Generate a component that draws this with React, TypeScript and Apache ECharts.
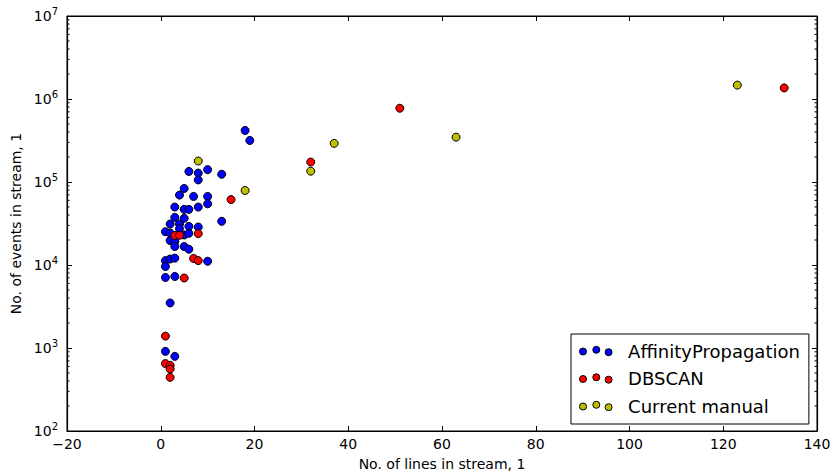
import React, { useEffect, useRef } from "react";
import * as echarts from "echarts";

// Data: [No. of lines in stream, No. of events in stream]
const affinityPropagation: [number, number][] = [
  [18, 418000], [19, 317000], [6, 134000], [8, 128000], [10, 141000], [8, 106000],
  [13, 124000], [5, 83600], [4, 69500], [7, 67000], [10, 67000], [10, 54600],
  [3, 49900], [5, 46800], [6, 46800], [8, 49900], [3, 37500], [5, 36500],
  [13, 33600], [2, 31200], [4, 31200], [6, 29200], [8, 28700], [4, 27400],
  [1, 25200], [2, 24300], [5, 23000], [6, 24100], [2, 19700], [3, 19200],
  [3, 16700], [5, 16700], [6, 15500], [1, 11300], [2, 11800], [3, 12100],
  [10, 11100], [1, 9600], [1, 7080], [3, 7280], [2, 3490], [1, 910], [3, 793],
];
const dbscan: [number, number][] = [
  [15, 61400], [3, 22700], [4, 22800], [8, 23900], [7, 12000], [8, 11300],
  [5, 6970], [1, 1390], [1, 649], [2, 618], [2, 558], [2, 443],
  [51, 774000], [32, 174000], [133, 1360000],
];
const currentManual: [number, number][] = [
  [8, 179000], [18, 79000], [32, 135000], [37, 292000], [63, 347000], [123, 1470000],
];

const seriesNames = ["AffinityPropagation", "DBSCAN", "Current manual"];
const seriesColors = ["#0000ff", "#ff0000", "#bfbf00"];
const xTicks = { min: -20, max: 140, interval: 20 };
const yRange = { min: 100, max: 10000000 };
const minorMantissas = [2, 3, 4, 5, 6, 7, 8, 9];
const minorDecades = [100, 1000, 10000, 100000, 1000000];

const FONT = "DejaVu Sans";
const legendIcon =
  "path://M0,5.2a3.5,3.5 0 1,0 7,0a3.5,3.5 0 1,0 -7,0Z" +
  "M13.3,3.5a3.5,3.5 0 1,0 7,0a3.5,3.5 0 1,0 -7,0Z" +
  "M25.6,5.9a3.5,3.5 0 1,0 7,0a3.5,3.5 0 1,0 -7,0Z";

export default function App() {
  const ref = useRef<HTMLDivElement>(null);
  useEffect(() => {
    if (!ref.current) return;
    const chart = echarts.init(ref.current, undefined, { renderer: "svg" });
    const yMinor: number[] = [];
    minorDecades.forEach((d) => minorMantissas.forEach((m) => yMinor.push(m * d)));
    const datasets = [affinityPropagation, dbscan, currentManual];

    const xAxisBase = {
      type: "value" as const,
      min: xTicks.min,
      max: xTicks.max,
      interval: xTicks.interval,
      splitLine: { show: false },
      axisLine: { show: true, onZero: false, lineStyle: { color: "#000", width: 1.2 } },
      axisTick: { show: true, inside: true, length: 5, lineStyle: { color: "#000" } },
    };
    const yAxisBase = {
      type: "log" as const,
      logBase: 10,
      min: yRange.min,
      max: yRange.max,
      splitLine: { show: false },
      axisLine: { show: true, onZero: false, lineStyle: { color: "#000", width: 1.2 } },
      axisTick: { show: true, inside: true, length: 5, lineStyle: { color: "#000" } },
    };

    chart.setOption({
      animation: false,
      textStyle: { fontFamily: FONT },
      grid: {
        left: 67, right: 17, top: 16, bottom: 43,
        show: true, borderColor: "#000", borderWidth: 1, backgroundColor: "#fff",
      },
      xAxis: [
        {
          ...xAxisBase,
          position: "bottom",
          name: "No. of lines in stream, 1",
          nameLocation: "middle",
          nameGap: 26,
          nameTextStyle: { fontSize: 14, color: "#000", fontFamily: FONT },
          axisLabel: {
            fontSize: 14, color: "#000", margin: 6, fontFamily: FONT,
            formatter: (v: number) => (v < 0 ? "\u2212" + Math.abs(v) : String(v)),
          },
        },
        { ...xAxisBase, position: "top", axisLabel: { show: false } },
      ],
      yAxis: [
        {
          ...yAxisBase,
          position: "left",
          name: "No. of events in stream, 1",
          nameLocation: "middle",
          nameGap: 42,
          nameTextStyle: { fontSize: 14, color: "#000", fontFamily: FONT },
          axisLabel: {
            color: "#000", margin: 9, fontFamily: FONT,
            formatter: (v: number) => `{b|10}{s|${Math.round(Math.log10(v))}}`,
            rich: {
              b: { fontSize: 14, color: "#000", fontFamily: FONT },
              s: { fontSize: 10, color: "#000", fontFamily: FONT, padding: [0, 0, 9, 0] },
            },
          },
        },
        { ...yAxisBase, position: "right", axisLabel: { show: false } },
      ],
      legend: {
        data: seriesNames,
        orient: "vertical",
        left: 571,
        top: 334,
        padding: [8, 9, 9, 8],
        itemGap: 9.5,
        itemWidth: 32.6,
        itemHeight: 9.4,
        icon: legendIcon,
        backgroundColor: "#fff",
        borderColor: "#000",
        borderWidth: 1,
        borderRadius: 0,
        itemStyle: { borderColor: "#000", borderWidth: 1 },
        textStyle: { fontSize: 18, color: "#000", fontFamily: FONT, padding: [0, 0, 0, 11] },
      },
      series: [
        ...datasets.map((d, i) => ({
          name: seriesNames[i],
          type: "scatter",
          xAxisIndex: 0,
          yAxisIndex: 0,
          data: d,
          symbol: "circle",
          symbolSize: 8,
          itemStyle: { color: seriesColors[i], borderColor: "#000", borderWidth: 1, opacity: 1 },
          emphasis: { disabled: true },
          z: 3 + i,
        })),
        {
          name: "yMinorTicks",
          type: "custom",
          xAxisIndex: 0,
          yAxisIndex: 0,
          silent: true,
          z: 10,
          data: yMinor.map((v) => [xTicks.min, v]),
          encode: { x: 0, y: 1 },
          renderItem: (_params: any, api: any) => {
            const v = api.value(1);
            const pL = api.coord([xTicks.min, v]);
            const pR = api.coord([xTicks.max, v]);
            return {
              type: "group",
              children: [
                { type: "line", shape: { x1: pL[0], y1: pL[1], x2: pL[0] + 2.5, y2: pL[1] }, style: { stroke: "#000", lineWidth: 1 } },
                { type: "line", shape: { x1: pR[0] - 2.5, y1: pR[1], x2: pR[0], y2: pR[1] }, style: { stroke: "#000", lineWidth: 1 } },
              ],
            };
          },
        },
      ],
    });
    return () => chart.dispose();
  }, []);
  return (
    <div
      ref={ref}
      style={{ position: "absolute", left: 0, top: 0, width: 834, height: 476, background: "#fff" }}
    />
  );
}
